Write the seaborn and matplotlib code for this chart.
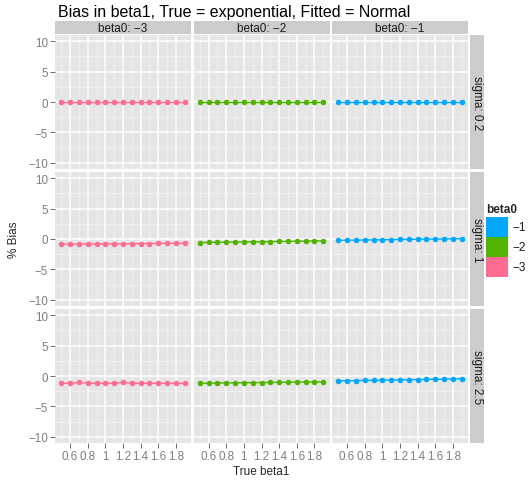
import numpy as np
import pandas as pd
import matplotlib
matplotlib.use("Agg")
import matplotlib.pyplot as plt
import seaborn as sns
from matplotlib.patches import Rectangle

# ---------------- data ----------------
true_beta1 = [0.5, 0.6, 0.7, 0.8, 0.9, 1.0, 1.1, 1.2, 1.3, 1.4, 1.5, 1.6, 1.7, 1.8, 1.9]
beta0_levels = [-3, -2, -1]
sigma_levels = [0.2, 1, 2.5]
beta0_strip_labels = ["beta0: \u22123", "beta0: \u22122", "beta0: \u22121"]
sigma_strip_labels = ["sigma: 0.2", "sigma: 1", "sigma: 2.5"]

bias_s02_bm3 = [0.00, 0.00, 0.00, 0.00, 0.00, 0.00, 0.00, 0.00, 0.00, 0.00, 0.00, 0.00, 0.00, 0.00, 0.00]
bias_s02_bm2 = [0.00, 0.00, 0.00, 0.00, 0.00, 0.00, 0.00, 0.00, 0.00, 0.00, 0.00, 0.00, 0.00, 0.00, 0.00]
bias_s02_bm1 = [0.00, 0.00, 0.00, 0.00, 0.00, 0.00, 0.00, 0.00, 0.00, 0.00, 0.00, 0.00, 0.00, 0.00, 0.00]

bias_s1_bm3 = [-0.85, -0.84, -0.83, -0.82, -0.81, -0.80, -0.79, -0.78, -0.77, -0.75, -0.74, -0.73, -0.71, -0.70, -0.68]
bias_s1_bm2 = [-0.58, -0.56, -0.54, -0.52, -0.50, -0.48, -0.46, -0.44, -0.42, -0.40, -0.39, -0.37, -0.35, -0.33, -0.31]
bias_s1_bm1 = [-0.22, -0.20, -0.18, -0.16, -0.14, -0.12, -0.10, -0.08, -0.06, -0.04, -0.03, -0.01, 0.01, 0.03, 0.05]

bias_s25_bm3 = [-1.20, -1.19, -1.05, -1.19, -1.20, -1.19, -1.20, -1.05, -1.19, -1.20, -1.19, -1.20, -1.20, -1.21, -1.21]
bias_s25_bm2 = [-1.20, -1.17, -1.15, -1.13, -1.12, -1.10, -1.09, -1.07, -1.05, -1.04, -1.02, -1.00, -0.99, -0.97, -0.95]
bias_s25_bm1 = [-0.80, -0.78, -0.76, -0.73, -0.71, -0.68, -0.66, -0.63, -0.61, -0.58, -0.56, -0.53, -0.51, -0.48, -0.45]

xtick_values = [0.6, 0.8, 1.0, 1.2, 1.4, 1.6, 1.8]
xtick_labels = ["0.6", "0.8", "1", "1.2", "1.4", "1.6", "1.8"]
ytick_values = [-10, -5, 0, 5, 10]

palette = {-3: "#FF6C91", -2: "#4FB300", -1: "#00A9FF"}

bias_table = {
    (0.2, -3): bias_s02_bm3, (0.2, -2): bias_s02_bm2, (0.2, -1): bias_s02_bm1,
    (1, -3): bias_s1_bm3, (1, -2): bias_s1_bm2, (1, -1): bias_s1_bm1,
    (2.5, -3): bias_s25_bm3, (2.5, -2): bias_s25_bm2, (2.5, -1): bias_s25_bm1,
}
rows = []
for (s, b), vals in bias_table.items():
    for x, v in zip(true_beta1, vals):
        rows.append({"sigma": s, "beta0": b, "true_beta1": x, "bias": v})
df = pd.DataFrame(rows)

# ---------------- style ----------------
sns.set_style("white")
plt.rcParams["font.family"] = ["Liberation Sans", "DejaVu Sans"]

W, H = 530, 481
fig = plt.figure(figsize=(W / 100, H / 100), dpi=100)
fig.patch.set_facecolor("white")


def ax_px(left, top, width, height):
    return fig.add_axes([left / W, 1 - (top + height) / H, width / W, height / H])


col_left = [55, 193.5, 332]
col_w = 136
row_top = [36, 173, 310]
row_h = 134
strip_top, strip_h = 22, 12.5

for i, s in enumerate(sigma_levels):
    for j, b in enumerate(beta0_levels):
        ax = ax_px(col_left[j], row_top[i], col_w, row_h)
        ax.set_facecolor("#E5E5E5")
        sub = df[(df["sigma"] == s) & (df["beta0"] == b)]
        sns.lineplot(data=sub, x="true_beta1", y="bias", color=palette[b],
                     marker="o", markersize=4.0, markeredgewidth=0,
                     linewidth=1.0, ax=ax, legend=False)
        ax.set_xlim(0.43, 1.97)
        ax.set_ylim(-11, 11)
        ax.set_xticks(xtick_values)
        ax.set_xticks(true_beta1[::2], minor=True)
        ax.set_yticks(ytick_values)
        ax.set_yticks([-7.5, -2.5, 2.5, 7.5], minor=True)
        ax.grid(which="major", color="white", linewidth=1.1)
        ax.grid(which="minor", color="#F2F2F2", linewidth=0.5)
        ax.set_axisbelow(True)
        for sp in ax.spines.values():
            sp.set_visible(False)
        ax.tick_params(which="major", length=3.5, width=0.6, color="#555555",
                       labelcolor="#7F7F7F", labelsize=8.4, pad=1.5)
        ax.tick_params(which="minor", length=0)
        ax.set_xlabel("")
        ax.set_ylabel("")
        if i == len(sigma_levels) - 1:
            ax.set_xticklabels(xtick_labels)
            ax.tick_params(axis="x", bottom=True)
        else:
            ax.tick_params(axis="x", bottom=False, labelbottom=False)
        if j == 0:
            ax.tick_params(axis="y", left=True)
        else:
            ax.tick_params(axis="y", left=False, labelleft=False)

# top strips
for j, lab in enumerate(beta0_strip_labels):
    sax = ax_px(col_left[j], strip_top, col_w, strip_h)
    sax.set_facecolor("#CCCCCC")
    sax.set_xticks([]); sax.set_yticks([])
    for sp in sax.spines.values():
        sp.set_visible(False)
    sax.text(0.5, 0.45, lab, ha="center", va="center", fontsize=8.5,
             color="#1A1A1A", transform=sax.transAxes)

# right strips
for i, lab in enumerate(sigma_strip_labels):
    sax = ax_px(470, row_top[i], 14, row_h)
    sax.set_facecolor("#CCCCCC")
    sax.set_xticks([]); sax.set_yticks([])
    for sp in sax.spines.values():
        sp.set_visible(False)
    sax.text(0.5, 0.5, lab, ha="center", va="center", fontsize=8.5,
             rotation=270, color="#1A1A1A", transform=sax.transAxes)

# title & axis labels
fig.text(58 / W, 1 - 12 / H, "Bias in beta1, True = exponential, Fitted = Normal",
         ha="left", va="center", fontsize=11.5, color="black")
fig.text(14 / W, 1 - 240 / H, "% Bias", ha="center", va="center",
         rotation=90, fontsize=8.5)
fig.text(261.5 / W, 1 - 472 / H, "True beta1", ha="center", va="center",
         fontsize=8.5)

# legend
fig.text(486 / W, 1 - 210 / H, "beta0", ha="left", va="center",
         fontsize=8.5, fontweight="bold")
legend_levels = [-1, -2, -3]
legend_labels = ["\u22121", "\u22122", "\u22123"]
for k, (lv, lab) in enumerate(zip(legend_levels, legend_labels)):
    top = 218 + k * 20
    fig.add_artist(Rectangle((486 / W, 1 - (top + 20) / H), 22 / W, 20 / H,
                             transform=fig.transFigure, facecolor=palette[lv],
                             edgecolor="none"))
    fig.text(512 / W, 1 - (top + 10) / H, lab, ha="left", va="center",
             fontsize=8.5, color="#1A1A1A")

fig.savefig("out.png", dpi=100)
